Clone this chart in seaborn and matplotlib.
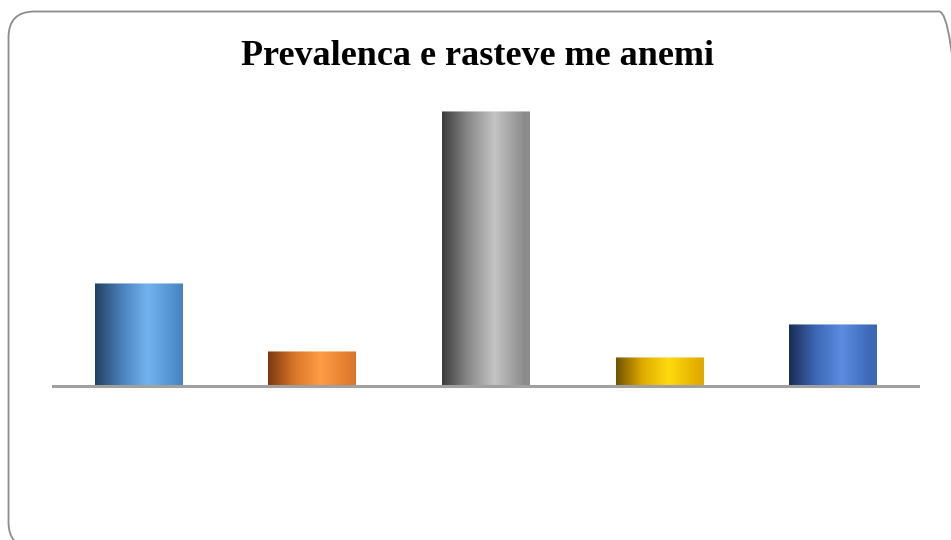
import numpy as np
import pandas as pd
import matplotlib
matplotlib.use("Agg")
import matplotlib.pyplot as plt
from matplotlib.patches import FancyBboxPatch
from matplotlib.colors import LinearSegmentedColormap
import seaborn as sns

# Data
categories = ["Grupi 1", "Grupi 2", "Grupi 3", "Grupi 4", "Grupi 5"]
values = [18.8, 6.4, 50.0, 5.3, 11.3]
title = "Prevalenca e rasteve me anemi"

# Cylinder shading per bar: (edge dark, mid, highlight, right side)
shades = [
    ["#22405f", "#4a80bb", "#72b4f0", "#4d8cca"],
    ["#7a3a12", "#d9752a", "#ff9d45", "#e07a2c"],
    ["#3c3c3c", "#8a8a8a", "#c4c4c4", "#8c8c8c"],
    ["#6e5400", "#e0aa00", "#ffda10", "#e2ae00"],
    ["#1a2c55", "#3d67b4", "#5c8ce0", "#3c68b8"],
]

sns.set_theme(style="white")
plt.rcParams["font.family"] = ["Liberation Serif", "DejaVu Serif"]

W, H = 951, 540
fig = plt.figure(figsize=(W / 100, H / 100), dpi=100)
fig.patch.set_facecolor("white")

# Rounded frame around the chart (in inches; runs slightly past the right and bottom edges)
frame = FancyBboxPatch((0.085, -0.08), 9.65 - 0.085, (H - 11.5) / 100 + 0.08,
                       boxstyle="round,pad=0,rounding_size=0.26",
                       transform=fig.dpi_scale_trans, facecolor="none",
                       edgecolor="#8c8c8c", linewidth=1.3)
fig.patches.append(frame)

# Plot area in pixel terms
left, right, top, bottom = 52, 920, 100, 520
ax = fig.add_axes([left / W, 1 - bottom / H, (right - left) / W, (bottom - top) / H])

df = pd.DataFrame({"cat": categories, "val": values})
sns.barplot(data=df, x="cat", y="val", ax=ax, width=0.506, color="white",
            linewidth=0, saturation=1)

# y-limits chosen so the zero line sits 386 px down the figure
px_per_unit = 275 / values[2]
ymax = (386 - top) / px_per_unit
ymin = -(bottom - 386) / px_per_unit
ax.set_ylim(ymin, ymax)
ax.set_xlim(-0.5, len(categories) - 0.5)

for patch, cols in zip(ax.patches, shades):
    x0, w, h = patch.get_x(), patch.get_width(), patch.get_height()
    cmap = LinearSegmentedColormap.from_list(
        "cyl", [(0.0, cols[0]), (0.3, cols[1]), (0.6, cols[2]), (0.93, cols[3]), (1.0, cols[1])])
    grad = np.linspace(0, 1, 256).reshape(1, -1)
    im = ax.imshow(grad, cmap=cmap, aspect="auto", extent=(x0, x0 + w, 0, h),
                   zorder=3, interpolation="bicubic")
    im.set_clip_path(patch)
    # light rim along the top edge
    ax.plot([x0, x0 + w], [h, h], color="white", alpha=0.55, lw=1.2, zorder=4,
            solid_capstyle="butt")

ax.axhline(0, color="#a0a0a0", lw=2.2, zorder=5)
ax.set_xlabel("")
ax.set_ylabel("")
ax.set_xticks([])
ax.set_yticks([])
for s in ax.spines.values():
    s.set_visible(False)
ax.set_facecolor("none")

fig.text(477.5 / W, 1 - 56.5 / H, title, ha="center", va="center",
         fontsize=26, fontweight="bold", color="black")

fig.savefig("out.png", dpi=100, facecolor="white")
